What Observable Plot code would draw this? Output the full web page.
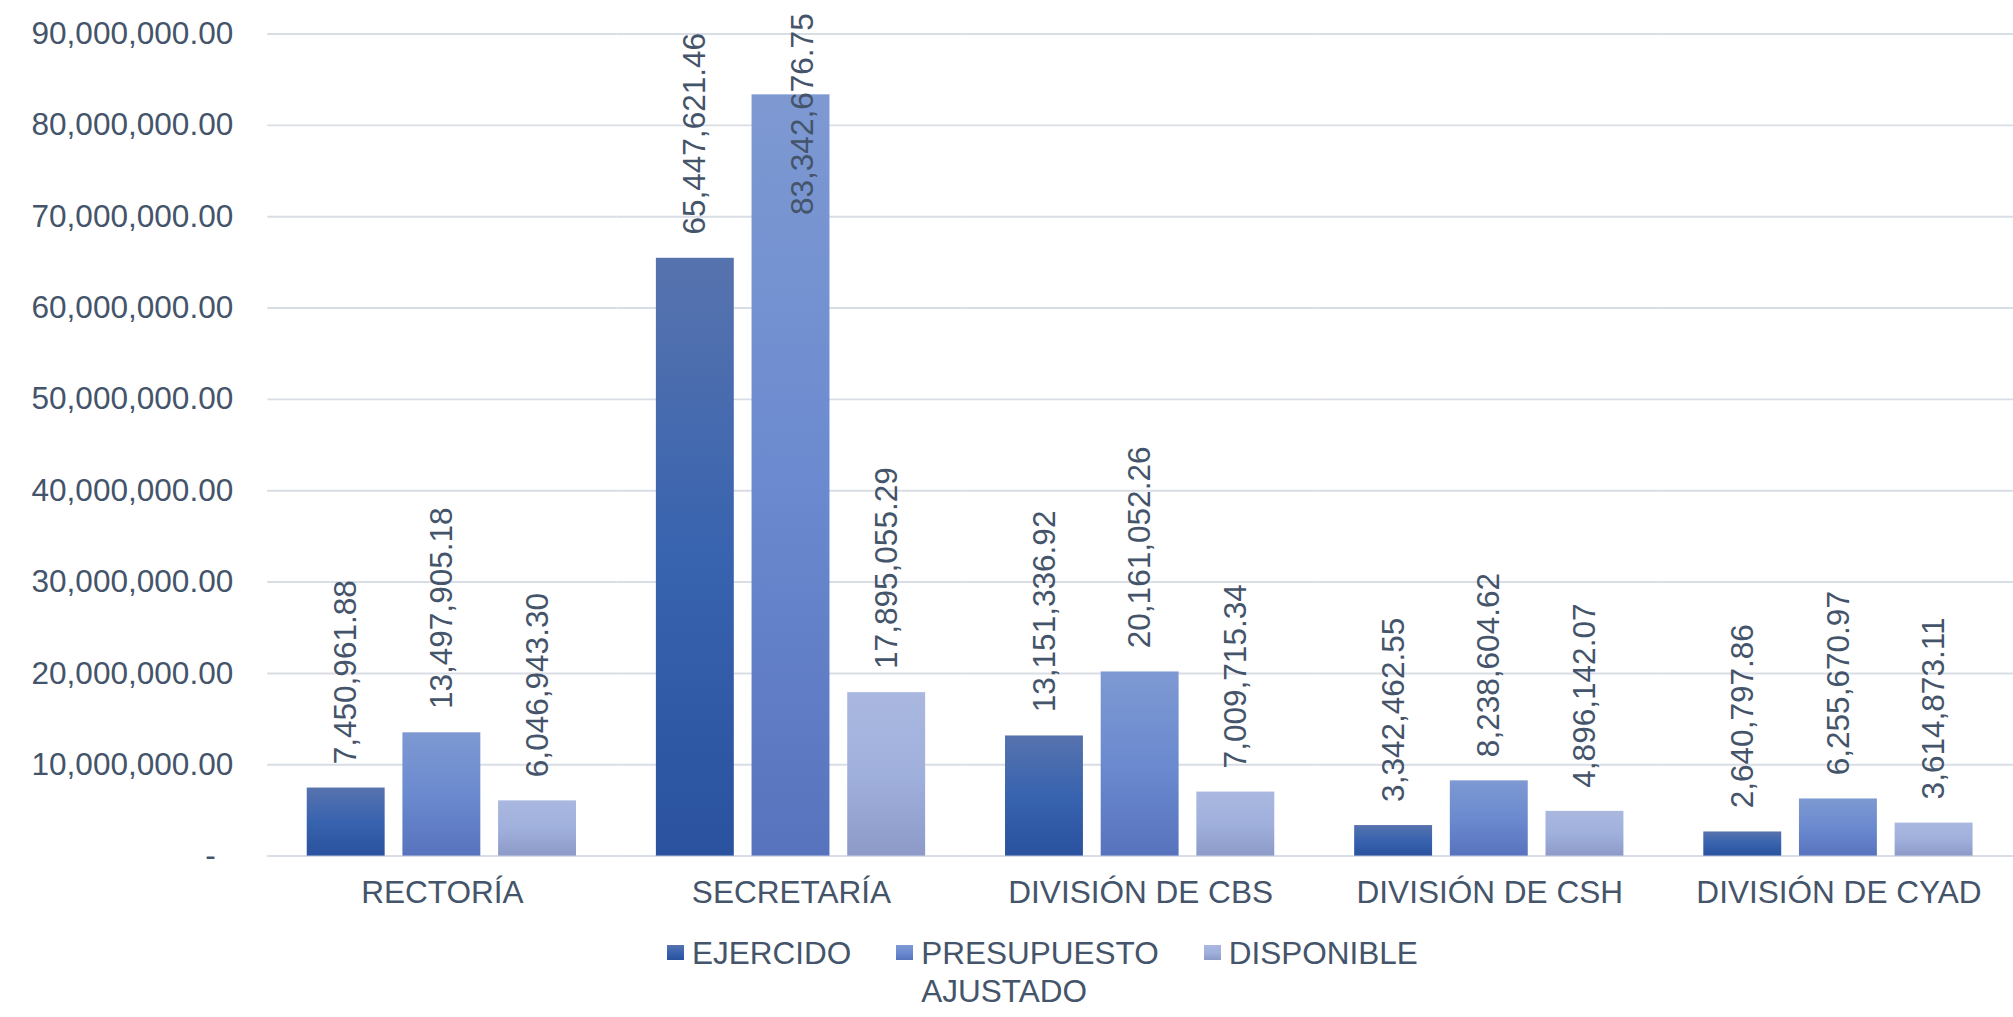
<!DOCTYPE html>
<html>
<head>
<meta charset="utf-8">
<script src="https://cdn.jsdelivr.net/npm/d3@7"></script>
<script src="https://cdn.jsdelivr.net/npm/@observablehq/plot@0.6"></script>
<style>
  html, body { margin: 0; padding: 0; background: #fff; overflow: hidden; }
  body { font-family: "Liberation Sans", Arial, sans-serif; }
  #chart svg { display: block; overflow: visible; }
  .legend { display: flex; align-items: flex-start; padding-left: 667px; font-size: 31.5px; line-height: 38px; color: #44546a; white-space: nowrap; }
  .legend .item { display: flex; align-items: flex-start; margin-right: 45px; }
  .legend .sw { width: 17px; height: 15px; margin-top: 11px; margin-right: 8px; flex: none; }
  .legend .wrap { width: min-content; white-space: normal; }
</style>
</head>
<body>
<div id="chart"></div>
<div class="legend" id="legend"></div>
<script>
// ---- data ----
const categories = ["RECTORÍA", "SECRETARÍA", "DIVISIÓN DE CBS", "DIVISIÓN DE CSH", "DIVISIÓN DE CYAD"];
const series = ["EJERCIDO", "PRESUPUESTO AJUSTADO", "DISPONIBLE"];
const ejercido = [7450961.88, 65447621.46, 13151336.92, 3342462.55, 2640797.86];
const presupuesto = [13497905.18, 83342676.75, 20161052.26, 8238604.62, 6255670.97];
const disponible = [6046943.30, 17895055.29, 7009715.34, 4896142.07, 3614873.11];
const yTicks = [0, 10e6, 20e6, 30e6, 40e6, 50e6, 60e6, 70e6, 80e6, 90e6];

// ---- styling ----
const textColor = "#44546a";
const gradients = {
  "EJERCIDO": ["#5773ae", "#3863af", "#2a529e"],
  "PRESUPUESTO AJUSTADO": ["#7e99d2", "#6b8acf", "#5773bd"],
  "DISPONIBLE": ["#aab8e0", "#a0b0dc", "#8d9ac8"]
};
const gradId = {"EJERCIDO": "gE", "PRESUPUESTO AJUSTADO": "gP", "DISPONIBLE": "gD"};

const valuesBySeries = [ejercido, presupuesto, disponible];
const rows = [];
categories.forEach((c, i) => {
  series.forEach((s, j) => rows.push({category: c, series: s, value: valuesBySeries[j][i]}));
});

const fmt = d3.format(",.2f");
const labelLimit = 75e6; // labels of taller bars are pinned to the top of the chart

const chart = Plot.plot({
  width: 2041,
  height: 947,
  marginLeft: 271,
  marginRight: 0,
  marginTop: 34,
  marginBottom: 79.5,
  style: {fontFamily: "'Liberation Sans', Arial, sans-serif", fontSize: "32px", color: textColor, background: "transparent"},
  fx: {domain: categories, padding: 0, label: null},
  x: {domain: series, paddingInner: 0.1837, paddingOuter: 0.398, axis: null},
  y: {domain: [0, 90e6], label: null},
  marks: [
    Plot.ruleY(yTicks, {stroke: "#d9dee6", strokeWidth: 2}),
    ...series.map(s => Plot.barY(rows.filter(d => d.series === s), {
      x: "series", y: "value", fx: "category", fill: `url(#${gradId[s]})`
    })),
    Plot.text(rows.filter(d => d.value <= labelLimit), {
      x: "series", y: "value", fx: "category",
      text: d => fmt(d.value), rotate: -90, textAnchor: "start", dy: -24,
      fill: textColor, fontSize: 32
    }),
    Plot.text(rows.filter(d => d.value > labelLimit), {
      x: "series", fx: "category", frameAnchor: "top",
      text: d => fmt(d.value), rotate: -90, textAnchor: "end", dy: -21,
      fill: textColor, fontSize: 32
    }),
    Plot.axisY({ticks: yTicks, tickSize: 0, tickPadding: 35, label: null,
      tickFormat: d => d === 0 ? "-\u2007" : fmt(d), fill: textColor, fontSize: 32}),
    Plot.axisFx({anchor: "bottom", tickSize: 0, tickPadding: 25, label: null, fill: textColor, fontSize: 32})
  ]
});

// gradient definitions
const ns = "http://www.w3.org/2000/svg";
const defs = document.createElementNS(ns, "defs");
for (const s of series) {
  const g = document.createElementNS(ns, "linearGradient");
  g.setAttribute("id", gradId[s]);
  g.setAttribute("x1", "0"); g.setAttribute("y1", "0");
  g.setAttribute("x2", "0"); g.setAttribute("y2", "1");
  gradients[s].forEach((c, k, arr) => {
    const st = document.createElementNS(ns, "stop");
    st.setAttribute("offset", String(k / (arr.length - 1)));
    st.setAttribute("stop-color", c);
    g.appendChild(st);
  });
  defs.appendChild(g);
}
chart.insertBefore(defs, chart.firstChild);
document.getElementById("chart").appendChild(chart);

// legend
const legend = document.getElementById("legend");
for (const s of series) {
  const item = document.createElement("div");
  item.className = "item";
  const sw = document.createElement("span");
  sw.className = "sw";
  sw.style.background = `linear-gradient(${gradients[s][0]}, ${gradients[s][1]}, ${gradients[s][2]})`;
  const label = document.createElement("span");
  label.className = s.includes(" ") ? "wrap" : "";
  label.textContent = s;
  item.appendChild(sw);
  item.appendChild(label);
  legend.appendChild(item);
}
</script>
</body>
</html>
